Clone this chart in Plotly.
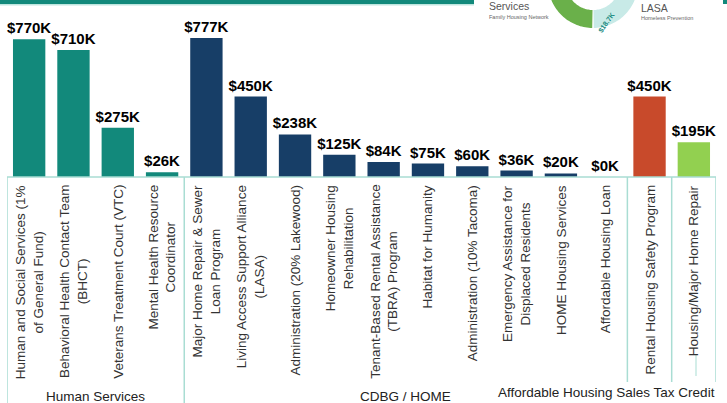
import math
import plotly.graph_objects as go

# ---------------- data ----------------
categories = [
    "Human and Social Services (1%<br>of General Fund)",
    "Behavioral Health Contact Team<br>(BHCT)",
    "Veterans Treatment Court (VTC)",
    "Mental Health Resource<br>Coordinator",
    "Major Home Repair & Sewer<br>Loan Program",
    "Living Access Support Alliance<br>(LASA)",
    "Administration (20% Lakewood)",
    "Homeowner Housing<br>Rehabilitation",
    "Tenant-Based Rental Assistance<br>(TBRA) Program",
    "Habitat for Humanity",
    "Administration (10% Tacoma)",
    "Emergency Assistance for<br>Displaced Residents",
    "HOME Housing Services",
    "Affordable Housing Loan",
    "Rental Housing Safety Program",
    "Housing/Major Home Repair",
]
values_k = [770, 710, 275, 26, 777, 450, 238, 125, 84, 75, 60, 36, 20, 0, 450, 195]
value_labels = ["$%dK" % v for v in values_k]
groups = ["Human Services"] * 4 + ["CDBG / HOME"] * 10 + ["Rental"] + ["Repair"]
group_colors = {
    "Human Services": "#12897B",
    "CDBG / HOME": "#173E67",
    "Rental": "#C84A2B",
    "Repair": "#92D050",
}
group_labels = ["Human Services", "CDBG / HOME", "Affordable Housing Sales Tax Credit"]

# ---------------- layout helpers (pixel -> paper) ----------------
W, H = 727, 403
ML, MR, MT, MB = 7, 11, 0, 226
PW, PH = W - ML - MR, H - MT - MB


def px(x):
    return (x - ML) / PW


def py(y):
    return (MT + PH - y) / PH


LINE = "#A9DDD3"
TEXT = "#333333"

fig = go.Figure()
fig.add_trace(go.Bar(
    x=categories,
    y=values_k,
    marker=dict(color=[group_colors[g] for g in groups], line=dict(width=0)),
    text=value_labels,
    textposition="outside",
    textfont=dict(family="Arial", size=15, color="#000000", weight="bold"),
    constraintext="none",
    cliponaxis=False,
    hoverinfo="x+y",
))

annotations = []
# category labels (rotated, centred lines)
for c in categories:
    annotations.append(dict(
        x=c, xref="x", y=0, yref="paper", yshift=-6,
        text=c, textangle=-90, showarrow=False,
        xanchor="center", yanchor="top", align="center",
        font=dict(family="Arial", size=13.5, color=TEXT),
    ))

# group labels
annotations += [
    dict(x=1.5, xref="x", y=py(396), yref="paper", text=group_labels[0],
         showarrow=False, xanchor="center", yanchor="middle",
         font=dict(family="Arial", size=13.5, color="#222222")),
    dict(x=8.5, xref="x", y=py(396), yref="paper", text=group_labels[1],
         showarrow=False, xanchor="center", yanchor="middle",
         font=dict(family="Arial", size=13.5, color="#222222")),
    dict(x=px(606), xref="paper", y=py(392), yref="paper", text=group_labels[2],
         showarrow=False, xanchor="center", yanchor="middle", bgcolor="white",
         font=dict(family="Arial", size=13.5, color="#222222")),
]

shapes = []
# group box lines
shapes.append(dict(type="line", xref="x", yref="paper", x0=-0.5, x1=15.5, y0=0, y1=0,
                   line=dict(color=LINE, width=1.5)))
for xv, ybot in [(-0.5, 410), (3.5, 410), (13.5, 382), (14.5, 382), (15.5, 382)]:
    shapes.append(dict(type="line", xref="x", yref="paper", x0=xv, x1=xv,
                       y0=0, y1=py(ybot), line=dict(color=LINE, width=1.5)))
# small stray tick under last label
shapes.append(dict(type="line", xref="paper", yref="paper", x0=px(696), x1=px(696),
                   y0=py(355), y1=py(376), line=dict(color=LINE, width=1)))

# top decoration: teal banner pieces
shapes.append(dict(type="rect", xref="paper", yref="paper", x0=px(-2), x1=px(474),
                   y0=py(4), y1=py(-2), line=dict(width=0), fillcolor="#12897B"))
shapes.append(dict(type="rect", xref="paper", yref="paper", x0=px(-2), x1=px(474),
                   y0=py(5.5), y1=py(4), line=dict(width=0), fillcolor="#BFE6DF"))
shapes.append(dict(type="rect", xref="paper", yref="paper", x0=px(723), x1=px(730),
                   y0=py(4), y1=py(-2), line=dict(width=0), fillcolor="#12897B"))


def ring_path(cx, cy, r_in, r_out, a0, a1, n=40):
    pts = []
    for i in range(n + 1):
        a = math.radians(a0 + (a1 - a0) * i / n)
        pts.append((cx + r_out * math.cos(a), cy + r_out * math.sin(a)))
    for i in range(n + 1):
        a = math.radians(a1 - (a1 - a0) * i / n)
        pts.append((cx + r_in * math.cos(a), cy + r_in * math.sin(a)))
    d = "M " + " L ".join("%.5f,%.5f" % (px(x), py(y)) for x, y in pts) + " Z"
    return d


cx, cy = 593, -17
shapes.append(dict(type="path", xref="paper", yref="paper",
                   path=ring_path(cx, cy, 27, 45, 91, 180), fillcolor="#6AB04A",
                   line=dict(width=0)))
shapes.append(dict(type="path", xref="paper", yref="paper",
                   path=ring_path(cx, cy, 27, 45, 0, 89), fillcolor="#C8EAE7",
                   line=dict(width=0)))

annotations += [
    dict(x=px(567), y=py(8), xref="paper", yref="paper", text="<b>$15K</b>", textangle=55,
         showarrow=False, font=dict(family="Arial", size=7, color="white")),
    dict(x=px(619), y=py(8), xref="paper", yref="paper", text="<b>$18.7K</b>", textangle=-55,
         showarrow=False, font=dict(family="Arial", size=7, color="#1A8A80")),
    dict(x=px(487), y=py(14), xref="paper", yref="paper", text="Community<br>Services",
         xanchor="left", yanchor="bottom", align="left", showarrow=False,
         font=dict(family="Arial", size=10.5, color="#555555")),
    dict(x=px(487), y=py(17), xref="paper", yref="paper", text="Family Housing Network",
         xanchor="left", yanchor="middle", showarrow=False,
         font=dict(family="Arial", size=5.5, color="#666666")),
    dict(x=px(639), y=py(8), xref="paper", yref="paper", text="LASA", xanchor="left",
         yanchor="middle", showarrow=False, font=dict(family="Arial", size=10.5, color="#555555")),
    dict(x=px(639), y=py(18), xref="paper", yref="paper", text="Homeless Prevention",
         xanchor="left", yanchor="middle", showarrow=False,
         font=dict(family="Arial", size=5.5, color="#666666")),
]

fig.update_layout(
    width=W, height=H,
    margin=dict(l=ML, r=MR, t=MT, b=MB, pad=0),
    paper_bgcolor="white", plot_bgcolor="white",
    showlegend=False,
    bargap=0.27,
    xaxis=dict(type="category", range=[-0.5, 15.5], showticklabels=False,
               showgrid=False, zeroline=False, showline=False, ticks=""),
    yaxis=dict(range=[0, 990], visible=False, showgrid=False, zeroline=False),
    annotations=annotations,
    shapes=shapes,
    font=dict(family="Arial"),
)

fig.write_html(
    "out.html",
    config={"displayModeBar": False},
    post_script="document.body.style.margin='0px';document.body.style.overflow='hidden';",
)
